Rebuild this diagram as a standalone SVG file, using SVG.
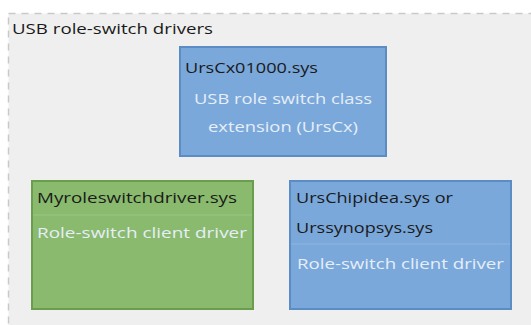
<svg xmlns="http://www.w3.org/2000/svg" width="531" height="325" viewBox="0 0 531 325">
  <style>
    .lbl { font-family: "Open Sans", "Liberation Sans", sans-serif; font-size: 15px; }
    .dark { fill: #1a1a1a; }
    .light { fill: #e6eef8; }
    .blue { fill: #7aa8da; stroke: #5b8cc4; stroke-width: 2; }
    .green { fill: #8aba6e; stroke: #6a9e4c; stroke-width: 2; }
    .sep { stroke-width: 1; }
  </style>
  <rect width="531" height="325" fill="#ffffff"/>
  <!-- container -->
  <g id="container">
    <rect x="8.5" y="13.5" width="540" height="330" fill="#efefef" stroke="#c9c9c9" stroke-width="1.5" stroke-dasharray="7,6"/>
    <text class="lbl dark" x="12" y="34" textLength="201" lengthAdjust="spacingAndGlyphs">USB role-switch drivers</text>
  </g>
  <g id="ursCx">
    <rect class="blue" x="180" y="47" width="206" height="109"/>
    <text class="lbl dark" x="185" y="73" textLength="133" lengthAdjust="spacingAndGlyphs">UrsCx01000.sys</text>
    <text class="lbl light" x="283" y="104" text-anchor="middle" textLength="178" lengthAdjust="spacingAndGlyphs">USB role switch class</text>
    <text class="lbl light" x="283" y="132" text-anchor="middle" textLength="150" lengthAdjust="spacingAndGlyphs">extension (UrsCx)</text>
  </g>
  <g id="myDriver">
    <rect class="green" x="32" y="181" width="221" height="128"/>
    <line x1="33" y1="215" x2="252" y2="215" stroke="#9cc683" stroke-width="1"/>
    <text class="lbl dark" x="37" y="203" textLength="200" lengthAdjust="spacingAndGlyphs">Myroleswitchdriver.sys</text>
    <text class="lbl light" x="37" y="238" textLength="210" lengthAdjust="spacingAndGlyphs">Role-switch client driver</text>
  </g>
  <g id="ursClient">
    <rect class="blue" x="290" y="181" width="221" height="128"/>
    <line x1="291" y1="244" x2="510" y2="244" stroke="#8db5e0" stroke-width="1"/>
    <text class="lbl dark" x="296" y="203" textLength="157" lengthAdjust="spacingAndGlyphs">UrsChipidea.sys or</text>
    <text class="lbl dark" x="296" y="233" textLength="137" lengthAdjust="spacingAndGlyphs">Urssynopsys.sys</text>
    <text class="lbl light" x="297" y="269" textLength="207" lengthAdjust="spacingAndGlyphs">Role-switch client driver</text>
  </g>
  <g id="connectors"/>
</svg>
